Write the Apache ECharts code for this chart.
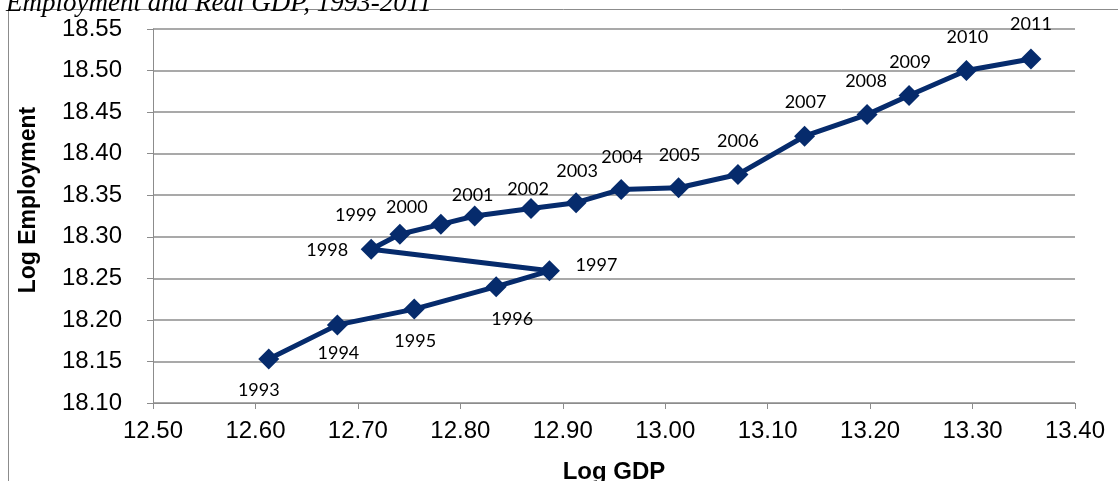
<!DOCTYPE html>
<html>
<head>
<meta charset="utf-8">
<script src="https://cdn.jsdelivr.net/npm/echarts@6/dist/echarts.min.js"></script>
<style>
  html, body { margin: 0; padding: 0; background: #ffffff; }
  #chart { width: 1118px; height: 481px; }
</style>
</head>
<body>
<div id="chart"></div>
<script>
// Log employment vs. log real GDP, 1993-2011
const years = ['1993','1994','1995','1996','1997','1998','1999','2000','2001','2002',
               '2003','2004','2005','2006','2007','2008','2009','2010','2011'];
const logGDP = [12.613, 12.680, 12.755, 12.835, 12.887, 12.713, 12.741, 12.781, 12.814, 12.869,
                12.913, 12.957, 13.013, 13.071, 13.136, 13.197, 13.238, 13.294, 13.357];
const logEmployment = [18.153, 18.194, 18.213, 18.240, 18.259, 18.285, 18.303, 18.315, 18.325, 18.334,
                       18.341, 18.357, 18.359, 18.375, 18.421, 18.447, 18.470, 18.500, 18.514];

const xTicks = { min: 12.5, max: 13.4, step: 0.1 };
const yTicks = { min: 18.1, max: 18.55, step: 0.05 };

// where each year's label sits relative to its marker
const labelOffsets = {
  '1993': [-10, 31], '1994': [1, 28], '1995': [1, 32], '1996': [16, 33],
  '1997': [47, -6], '1998': [-44, 1], '1999': [-44, -19], '2000': [-34, -17],
  '2001': [-2, -21], '2002': [-3, -19], '2003': [1, -32], '2004': [1, -32],
  '2005': [1, -33], '2006': [0, -33], '2007': [1, -34], '2008': [-1, -33],
  '2009': [1, -33], '2010': [1, -33], '2011': [0, -35]
};

const seriesData = years.map((yr, i) => ({
  value: [logGDP[i], logEmployment[i]],
  name: yr,
  label: { offset: labelOffsets[yr] }
}));

const gridColor = '#8c8c8c';
const navy = '#062b6c';
const sans = '"Liberation Sans", Arial, sans-serif';

const chart = echarts.init(document.getElementById('chart'), null, { renderer: 'canvas' });
chart.setOption({
  animation: false,
  backgroundColor: '#ffffff',
  graphic: [
    {
      type: 'rect', z: -1,
      shape: { x: 8.5, y: 9.5, width: 1300, height: 700 },
      style: { fill: 'none', stroke: '#8c8c8c', lineWidth: 1 }
    },
    {
      type: 'text', left: 6, top: -10,
      style: {
        text: 'Employment and Real GDP, 1993-2011',
        font: 'italic 27px "Liberation Serif", "DejaVu Serif", serif',
        fill: '#000000'
      }
    },
    {
      // vertical axis title
      type: 'text', x: 29, y: 200, rotation: Math.PI / 2,
      style: {
        text: 'Log Employment',
        font: 'bold 23px "Liberation Sans", Arial, sans-serif',
        fill: '#000000', align: 'center', verticalAlign: 'middle'
      }
    }
  ],
  grid: { left: 153, right: 43, top: 29, bottom: 78, containLabel: false, outerBoundsMode: 'none' },
  xAxis: {
    type: 'value',
    min: xTicks.min, max: xTicks.max, interval: xTicks.step,
    name: 'Log GDP', nameLocation: 'middle', nameGap: 57,
    nameTextStyle: { fontFamily: sans, fontWeight: 'bold', fontSize: 24, color: '#000' },
    axisLine: { show: true, onZero: false, lineStyle: { color: gridColor, width: 1 } },
    axisTick: { show: true, inside: false, length: 6, lineStyle: { color: gridColor } },
    axisLabel: {
      margin: 16, fontFamily: sans, fontSize: 24, color: '#000',
      formatter: v => v.toFixed(2)
    },
    splitLine: { show: false }
  },
  yAxis: {
    type: 'value',
    min: yTicks.min, max: yTicks.max, interval: yTicks.step,
    axisLine: { show: true, onZero: false, lineStyle: { color: gridColor, width: 1 } },
    axisTick: { show: true, inside: false, length: 6, lineStyle: { color: gridColor } },
    axisLabel: {
      margin: 31, fontFamily: sans, fontSize: 24, color: '#000',
      formatter: v => v.toFixed(2)
    },
    splitLine: { show: true, lineStyle: { color: gridColor, width: 1.5 } }
  },
  series: [{
    type: 'line',
    data: seriesData,
    symbol: 'diamond',
    symbolSize: 21,
    showAllSymbol: true,
    lineStyle: { color: navy, width: 5 },
    itemStyle: { color: navy },
    label: {
      show: true,
      position: 'inside',
      formatter: p => p.name,
      fontFamily: 'Lato, "Open Sans", sans-serif',
      fontSize: 18,
      color: '#000'
    },
    z: 3
  }]
});
</script>
</body>
</html>
